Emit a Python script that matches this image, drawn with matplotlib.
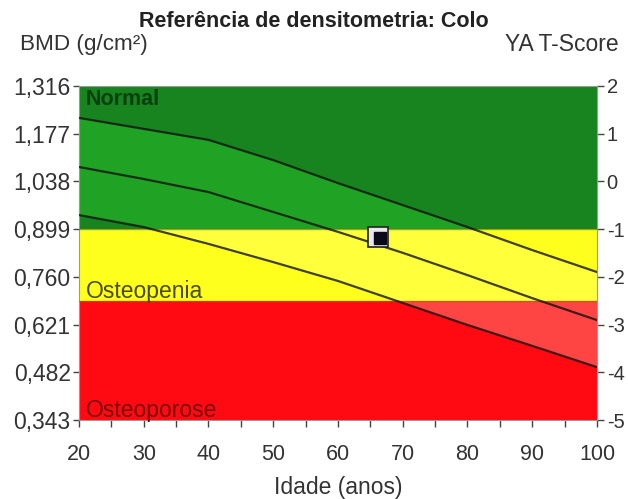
import numpy as np
import matplotlib
matplotlib.use('Agg')
import matplotlib.pyplot as plt
from matplotlib.patches import Rectangle
from matplotlib.ticker import FixedLocator, MultipleLocator

plt.rcParams['font.family'] = ['Liberation Sans', 'DejaVu Sans']
plt.rcParams['axes.unicode_minus'] = False

# reference curves (BMD, g/cm2) by age
ages = [20, 30, 40, 50, 60, 70, 80, 90, 100]
curve_top = [1.223, 1.191, 1.159, 1.100, 1.033, 0.969, 0.905, 0.838, 0.774]
curve_mid = [1.080, 1.045, 1.007, 0.949, 0.891, 0.830, 0.765, 0.698, 0.634]
curve_low = [0.940, 0.905, 0.856, 0.803, 0.748, 0.684, 0.620, 0.559, 0.497]

# patient measurement
patient_age = 66.2
patient_bmd = 0.875

bmd_ticks = [0.343, 0.482, 0.621, 0.760, 0.899, 1.038, 1.177, 1.316]
tscore_ticks = [2, 1, 0, -1, -2, -3, -4, -5]
age_ticks = [20, 30, 40, 50, 60, 70, 80, 90, 100]

ya_mean = 1.038
ya_sd = 0.139
lim_osteopenia = ya_mean - 1.0 * ya_sd
lim_osteoporose = ya_mean - 2.5 * ya_sd

zones = [
    # (low, high, base colour, band colour)
    (lim_osteopenia, 1.316, '#17841f', '#20a324'),
    (lim_osteoporose, lim_osteopenia, '#ffff1e', '#ffff3c'),
    (0.343, lim_osteoporose, '#ff0a12', '#ff4444'),
]

fig = plt.figure(figsize=(6.28, 4.99), dpi=100)
ax = fig.add_axes([0.1258, 0.1583, 0.8248, 0.6694])

for lo, hi, base, band in zones:
    ax.axhspan(lo, hi, color=base, lw=0, zorder=1)
    clip = Rectangle((20, lo), 80, hi - lo, transform=ax.transData)
    poly = ax.fill_between(ages, curve_low, curve_top, color=band, lw=0, zorder=2)
    poly.set_clip_path(clip)

ax.axhline(lim_osteopenia, color='#5a6a10', lw=1.0, alpha=0.6, zorder=3)
ax.axhline(lim_osteoporose, color='#b05a10', lw=1.0, alpha=0.6, zorder=3)

for c in (curve_top, curve_mid, curve_low):
    ax.plot(ages, c, color='#111111', lw=1.6, alpha=0.8, zorder=4)

ax.plot(patient_age, patient_bmd, marker='s', ms=14, mfc='#e8e8e8', mec='#222222', mew=1.2, zorder=5)
ax.plot(patient_age + 0.3, patient_bmd - 0.003, marker='s', ms=8.5, mfc='#0a0a1a', mec='#0a0a1a', zorder=6)

ax.text(21, 1.276, 'Normal', fontsize=15.5, fontweight='bold', color='#0a3f10', va='center', zorder=5)
ax.text(21, 0.718, 'Osteopenia', fontsize=16.5, color='#4a4a12', va='center', zorder=5)
ax.text(21, 0.370, 'Osteoporose', fontsize=16.5, color='#7a0808', va='center', zorder=5)

ax.set_xlim(20, 100)
ax.set_ylim(0.343, 1.316)
ax.xaxis.set_major_locator(FixedLocator(age_ticks))
ax.xaxis.set_minor_locator(MultipleLocator(5))
ax.yaxis.set_major_locator(FixedLocator(bmd_ticks))
ax.set_yticklabels([('%.3f' % v).replace('.', ',') for v in bmd_ticks])
ax.tick_params(axis='x', which='both', direction='out', length=5, width=1, color='#444444',
               labelsize=15.5, labelcolor='#333333', pad=12)
ax.tick_params(axis='y', direction='out', length=4, width=1, color='#444444',
               labelsize=16.5, labelcolor='#333333', pad=2)

for s in ax.spines.values():
    s.set_color('#999999')
    s.set_linewidth(0.8)

sec = ax.secondary_yaxis('right', functions=(lambda b: (b - ya_mean) / ya_sd,
                                            lambda t: t * ya_sd + ya_mean))
sec.yaxis.set_major_locator(FixedLocator(tscore_ticks))
sec.tick_params(direction='out', length=5, width=1, color='#444444',
                labelsize=14.5, labelcolor='#333333', pad=2)
sec.spines['right'].set_color('#999999')

ax.set_xlabel('Idade (anos)', fontsize=16.5, color='#333333', labelpad=8)

fig.text(0.5, 0.956, 'Referência de densitometria: Colo', ha='center', va='center',
         fontsize=15.5, fontweight='bold', color='#222222')
fig.text(0.032, 0.91, 'BMD (g/cm²)', ha='left', va='center', fontsize=16.2, color='#333333')
fig.text(0.985, 0.91, 'YA T-Score', ha='right', va='center', fontsize=16.5, color='#333333')

fig.savefig('out.png', dpi=100)
